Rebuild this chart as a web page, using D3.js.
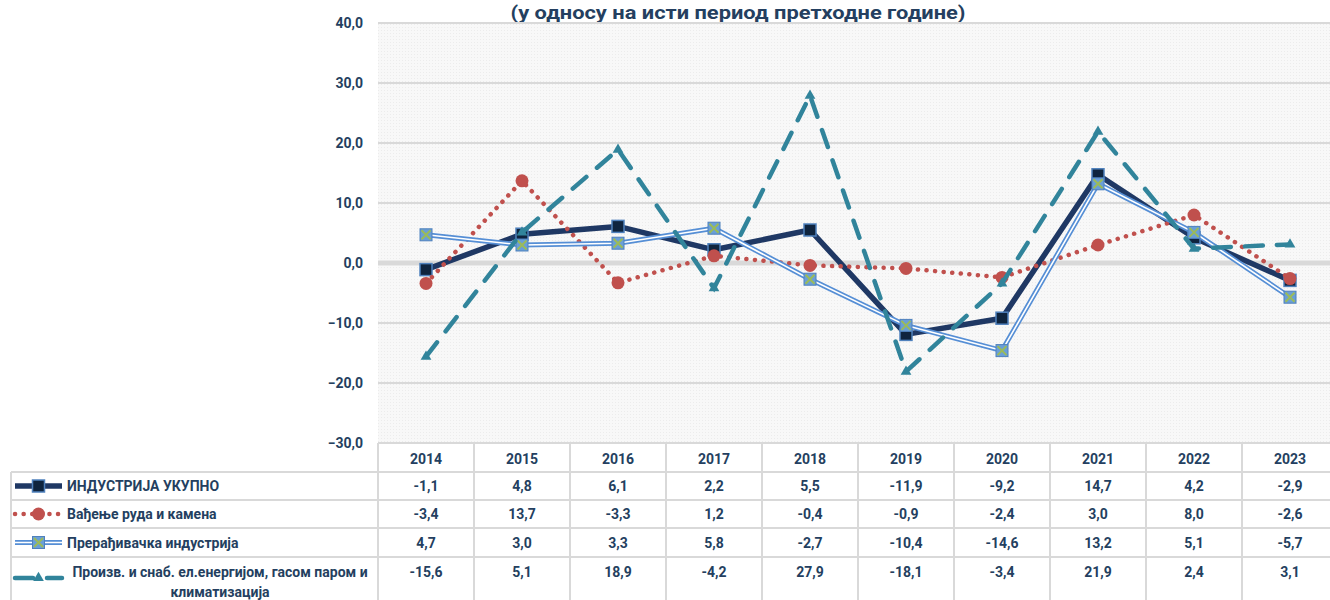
<!DOCTYPE html>
<html>
<head>
<meta charset="utf-8">
<script src="https://cdn.jsdelivr.net/npm/d3@7"></script>
<style>
  body { margin: 0; background: #fff; }
  svg { display: block; font-family: Roboto, "Noto Sans", sans-serif; }
</style>
</head>
<body>
<div id="chart"></div>
<script>
const years = ["2014", "2015", "2016", "2017", "2018", "2019", "2020", "2021", "2022", "2023"];
const yTicks = [40, 30, 20, 10, 0, -10, -20, -30];
const title = "(у односу на исти период претходне године)";

const industrijaUkupno = [-1.1, 4.8, 6.1, 2.2, 5.5, -11.9, -9.2, 14.7, 4.2, -2.9];
const vadjenjeRuda = [-3.4, 13.7, -3.3, 1.2, -0.4, -0.9, -2.4, 3.0, 8.0, -2.6];
const preradjivacka = [4.7, 3.0, 3.3, 5.8, -2.7, -10.4, -14.6, 13.2, 5.1, -5.7];
const energija = [-15.6, 5.1, 18.9, -4.2, 27.9, -18.1, -3.4, 21.9, 2.4, 3.1];

const seriesNames = [
  "ИНДУСТРИЈА УКУПНО",
  "Вађење руда и камена",
  "Прерађивачка индустрија",
  "Произв. и снаб. ел.енергијом, гасом паром и климатизација"
];

const series = [
  { name: seriesNames[0], values: industrijaUkupno, kind: "total" },
  { name: seriesNames[1], values: vadjenjeRuda, kind: "mining" },
  { name: seriesNames[2], values: preradjivacka, kind: "manuf" },
  { name: seriesNames[3], values: energija, kind: "energy" }
];

const W = 1330, H = 600;
const textColor = "#243f60";
const gridColor = "#d9d9d9";

const svg = d3.select("#chart").append("svg")
  .attr("width", W)
  .attr("height", H);

const x = d3.scaleBand().domain(years).range([378, 1338]);
const y = d3.scaleLinear().domain([-30, 40]).range([443, 23]);

// background texture
const defs = svg.append("defs");
const pat = defs.append("pattern")
  .attr("id", "tex")
  .attr("width", 3)
  .attr("height", 3)
  .attr("patternUnits", "userSpaceOnUse");
pat.append("rect").attr("width", 3).attr("height", 3).attr("fill", "#f8f8f8");
pat.append("rect").attr("width", 1).attr("height", 1).attr("fill", "#ececec");

svg.append("rect")
  .attr("x", x.range()[0])
  .attr("y", y(40))
  .attr("width", x.range()[1] - x.range()[0])
  .attr("height", y(-30) - y(40))
  .attr("fill", "url(#tex)");

// title
svg.append("text")
  .attr("x", 738)
  .attr("y", 19)
  .attr("text-anchor", "middle")
  .attr("font-size", 19)
  .attr("font-weight", "bold")
  .attr("fill", textColor)
  .attr("textLength", 455)
  .attr("lengthAdjust", "spacingAndGlyphs")
  .text(title);

// grid lines
svg.append("g")
  .selectAll("line")
  .data(yTicks)
  .join("line")
  .attr("x1", x.range()[0])
  .attr("x2", x.range()[1])
  .attr("y1", d => y(d))
  .attr("y2", d => y(d))
  .attr("stroke", gridColor)
  .attr("stroke-width", d => d === 0 ? 5 : 2);

// y axis labels
const yAxis = svg.append("g")
  .attr("transform", `translate(${x.range()[0]},0)`)
  .call(d3.axisLeft(y).tickValues(yTicks).tickSize(0).tickPadding(15)
    .tickFormat(d => d3.format(".1f")(d).replace(".", ",")));
yAxis.select(".domain").remove();
yAxis.selectAll("text")
  .attr("font-family", "Roboto, sans-serif")
  .attr("font-size", 14)
  .attr("font-weight", "bold")
  .attr("fill", textColor);

// lines
const line = d3.line()
  .x((d, i) => x(years[i]) + x.bandwidth() / 2)
  .y(d => y(d));

function drawMarker(g, kind, cx, cy) {
  if (kind === "total") {
    g.append("rect")
      .attr("x", cx - 6).attr("y", cy - 6)
      .attr("width", 12).attr("height", 12)
      .attr("fill", "#0f243e")
      .attr("stroke", "#4f81bd")
      .attr("stroke-width", 1.5);
  } else if (kind === "mining") {
    g.append("circle")
      .attr("cx", cx).attr("cy", cy).attr("r", 6.5)
      .attr("fill", "#c0504d");
  } else if (kind === "manuf") {
    g.append("rect")
      .attr("x", cx - 6).attr("y", cy - 6)
      .attr("width", 12).attr("height", 12)
      .attr("fill", "#6a9fd8")
      .attr("stroke", "#4f81bd")
      .attr("stroke-width", 1);
    g.append("path")
      .attr("d", `M${cx - 4.5},${cy - 4.5}L${cx + 4.5},${cy + 4.5}M${cx + 4.5},${cy - 4.5}L${cx - 4.5},${cy + 4.5}`)
      .attr("stroke", "#9bbb59")
      .attr("stroke-width", 2);
  } else {
    g.append("path")
      .attr("d", d3.symbol().type(d3.symbolTriangle).size(50)())
      .attr("transform", `translate(${cx},${cy})`)
      .attr("fill", "#31849b");
  }
}

function drawStroke(g, kind, d) {
  if (kind === "total") {
    g.append("path").attr("d", d).attr("fill", "none")
      .attr("stroke", "#1f3864").attr("stroke-width", 5.5)
      .attr("stroke-linejoin", "round");
  } else if (kind === "mining") {
    g.append("path").attr("d", d).attr("fill", "none")
      .attr("stroke", "#c0504d").attr("stroke-width", 4.5)
      .attr("stroke-linecap", "round")
      .attr("stroke-dasharray", "0.1 8.5");
  } else if (kind === "manuf") {
    g.append("path").attr("d", d).attr("fill", "none")
      .attr("stroke", "#558ed5").attr("stroke-width", 5)
      .attr("stroke-linejoin", "round");
    g.append("path").attr("d", d).attr("fill", "none")
      .attr("stroke", "#ffffff").attr("stroke-width", 1.6)
      .attr("stroke-linejoin", "round");
  } else {
    g.append("path").attr("d", d).attr("fill", "none")
      .attr("stroke", "#31849b").attr("stroke-width", 4.5)
      .attr("stroke-linecap", "round")
      .attr("stroke-dasharray", "18 14");
  }
}

series.forEach(s => {
  const g = svg.append("g").attr("class", "series");
  drawStroke(g, s.kind, line(s.values));
  s.values.forEach((v, i) => {
    drawMarker(g, s.kind, x(years[i]) + x.bandwidth() / 2, y(v));
  });
});

// data table
const tableTop = 443;
const rowEdges = [443, 472, 500, 528, 557, 620];
const tableLeft = 11;
const tbl = svg.append("g");
const borderColor = "#d9d9d9";

// horizontal lines
rowEdges.slice(0, 5).forEach((ry, i) => {
  tbl.append("line")
    .attr("x1", i === 0 ? x.range()[0] : tableLeft)
    .attr("x2", x.range()[1])
    .attr("y1", ry).attr("y2", ry)
    .attr("stroke", borderColor).attr("stroke-width", 2);
});
// vertical lines
tbl.append("line")
  .attr("x1", tableLeft).attr("x2", tableLeft)
  .attr("y1", rowEdges[1]).attr("y2", H)
  .attr("stroke", borderColor).attr("stroke-width", 2);
years.forEach(yr => {
  tbl.append("line")
    .attr("x1", x(yr)).attr("x2", x(yr))
    .attr("y1", tableTop).attr("y2", H)
    .attr("stroke", borderColor).attr("stroke-width", 2);
});

// header years
tbl.selectAll(".yr")
  .data(years)
  .join("text")
  .attr("class", "yr")
  .attr("x", d => x(d) + x.bandwidth() / 2)
  .attr("y", 464)
  .attr("text-anchor", "middle")
  .attr("font-size", 14)
  .attr("font-weight", "bold")
  .attr("fill", textColor)
  .text(d => d);

const fmt = v => d3.format(".1f")(v).replace(".", ",").replace("−", "-");

series.forEach((s, r) => {
  const top = rowEdges[r + 1];
  const bottom = r === 3 ? 600 : rowEdges[r + 2];
  const cy = r === 3 ? 578 : (top + bottom) / 2;

  // legend key
  const key = tbl.append("g");
  const keyPath = `M15,${cy}L62,${cy}`;
  drawStroke(key, s.kind, keyPath);
  drawMarker(key, s.kind, 38.5, cy);

  // label
  if (r === 3) {
    tbl.append("text")
      .attr("x", 220).attr("y", cy - 1)
      .attr("text-anchor", "middle")
      .attr("font-size", 14).attr("font-weight", "bold").attr("fill", textColor)
      .text("Произв. и снаб. ел.енергијом, гасом паром и");
    tbl.append("text")
      .attr("x", 220).attr("y", cy + 19)
      .attr("text-anchor", "middle")
      .attr("font-size", 14).attr("font-weight", "bold").attr("fill", textColor)
      .text("климатизација");
  } else {
    tbl.append("text")
      .attr("x", 67).attr("y", cy + 5)
      .attr("font-size", 14).attr("font-weight", "bold").attr("fill", textColor)
      .text(s.name);
  }

  // values
  s.values.forEach((v, i) => {
    tbl.append("text")
      .attr("x", x(years[i]) + x.bandwidth() / 2)
      .attr("y", r === 3 ? 577 : cy + 5)
      .attr("text-anchor", "middle")
      .attr("font-size", 14).attr("font-weight", "bold").attr("fill", textColor)
      .text(fmt(v));
  });
});
</script>
</body>
</html>
